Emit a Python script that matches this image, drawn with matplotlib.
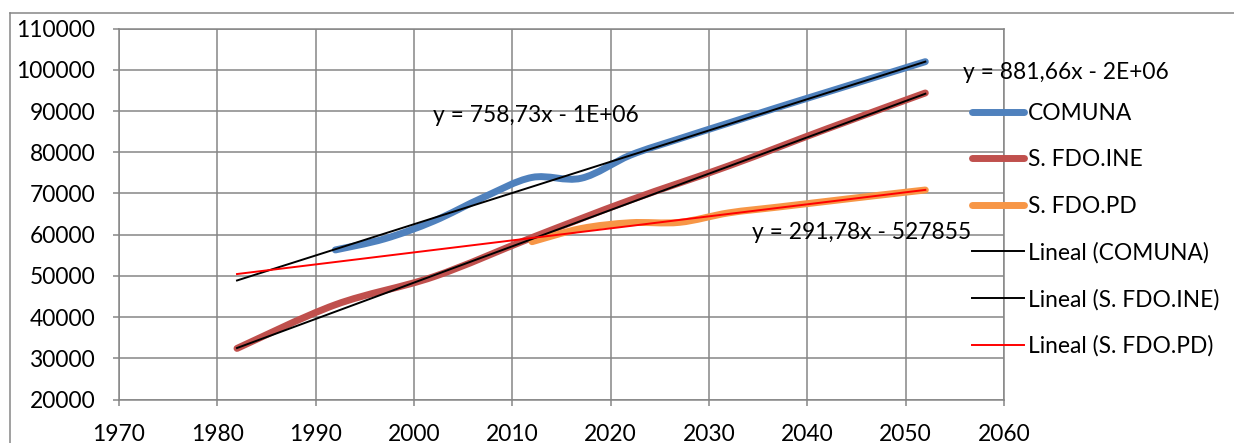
import numpy as np
import matplotlib
matplotlib.use("Agg")
import matplotlib.pyplot as plt
from matplotlib.path import Path
from matplotlib.patches import PathPatch
from matplotlib.lines import Line2D

plt.rcParams['font.family'] = ['Lato', 'DejaVu Sans']

# population series
years_comuna = [1992, 1997, 2002, 2007, 2012, 2017, 2022, 2027, 2032, 2037, 2042, 2047, 2052]
comuna = [56300, 59000, 63300, 69000, 73900, 73700, 79300, 83300, 87100, 90900, 94600, 98300, 102000]

years_ine = [1982, 1992, 2002, 2012, 2022, 2032, 2042, 2052]
fdo_ine = [32400, 43000, 49800, 59300, 68400, 76700, 85700, 94400]

years_pd = [2012, 2017, 2022, 2027, 2032, 2037, 2042, 2047, 2052]
fdo_pd = [58300, 61500, 62900, 63000, 65300, 66700, 68100, 69500, 70850]

series_names = ["COMUNA", "S. FDO.INE", "S. FDO.PD"]
series_colors = ["#4F81BD", "#C0504D", "#F79646"]

# linear trend lines (y = a*x + b)
trend_slopes = [758.73, 881.66, 291.78]
trend_intercepts = [-1454914, -1714950, -527855]
trend_colors = ["black", "black", "red"]
trend_years = [1982, 2052]

x_ticks = list(range(1970, 2061, 10))
y_ticks = list(range(20000, 110001, 10000))

# where the equations are written
eq_pos = [(2001.97, 89050), (2055.86, 99490), (2034.33, 60530)]


def smooth_path(x, y, t=1/6.):
    # cubic bezier through every point, like a spreadsheet "smoothed line"
    pts = np.column_stack([x, y]).astype(float)
    n = len(pts)
    verts = [pts[0]]
    codes = [Path.MOVETO]
    for i in range(n-1):
        p_prev = pts[i-1] if i > 0 else pts[i]
        p_next = pts[i+2] if i+2 < n else pts[i+1]
        c1 = pts[i] + (pts[i+1] - p_prev)*t
        c2 = pts[i+1] - (p_next - pts[i])*t
        verts += [c1, c2, pts[i+1]]
        codes += [Path.CURVE4]*3
    return Path(verts, codes)


def eq_label(a, b):
    if abs(b) >= 1e6:
        b_txt = "{:.0E}".format(abs(b))
    else:
        b_txt = "{:d}".format(int(abs(b)))
    sign = "-" if b < 0 else "+"
    return "y = {:.2f}x {} {}".format(a, sign, b_txt).replace(".", ",")


W, H = 1234, 443
grid_c = "#868686"
fs = 16.4
fig = plt.figure(figsize=(W/100, H/100), dpi=100)
ax = fig.add_axes([119/W, (H-399.5)/H, (1004-119)/W, (399.5-28.7)/H])

######################
# series + trend lines
######################
handles = []
all_data = [(years_comuna, comuna), (years_ine, fdo_ine), (years_pd, fdo_pd)]
for (xs, ys), name, col in zip(all_data, series_names, series_colors):
    patch = PathPatch(smooth_path(xs, ys), fill=False, edgecolor=col, lw=5,
                      capstyle='round', joinstyle='round', zorder=3)
    ax.add_patch(patch)
    handles.append(Line2D([], [], color=col, lw=5, solid_capstyle='round'))

tx = np.array(trend_years, dtype=float)
for a, b, col, name in zip(trend_slopes, trend_intercepts, trend_colors, series_names):
    l, = ax.plot(tx, a*tx + b, color=col, lw=1.4, zorder=4)
    handles.append(l)

labels = series_names + ["Lineal ({})".format(n) for n in series_names]

for (px, py), a, b in zip(eq_pos, trend_slopes, trend_intercepts):
    ax.text(px, py, eq_label(a, b), ha='left', va='center', fontsize=fs,
            zorder=5, clip_on=False)

######################
# axes
######################
ax.set_xlim(1970, 2060)
ax.set_ylim(20000, 110000)
ax.set_xticks(x_ticks)
ax.set_xticklabels([str(v) for v in x_ticks])
ax.set_yticks(y_ticks)
ax.set_yticklabels([str(v) for v in y_ticks])
ax.grid(True, color=grid_c, lw=1.1)
ax.set_axisbelow(True)
for s in ax.spines.values():
    s.set_color(grid_c)
    s.set_linewidth(1.1)
ax.tick_params(direction='out', length=4.5, width=1.1, color=grid_c, labelsize=fs)
ax.tick_params(axis='x', pad=13)
ax.tick_params(axis='y', pad=12.5)

ax.legend(handles, labels, loc='upper left', bbox_to_anchor=(972/W, 1-103/H),
          bbox_transform=fig.transFigure, frameon=False, fontsize=fs,
          handlelength=2.3, handletextpad=0.15, labelspacing=1.11,
          borderpad=0, borderaxespad=0)

# chart frame
fig.add_artist(Line2D([9.5/W, 9.5/W], [0, 1-13/H], color=grid_c, lw=1.1))
fig.add_artist(Line2D([9.5/W, 1], [1-13/H, 1-13/H], color=grid_c, lw=1.1))

fig.savefig("out.png", dpi=100)
